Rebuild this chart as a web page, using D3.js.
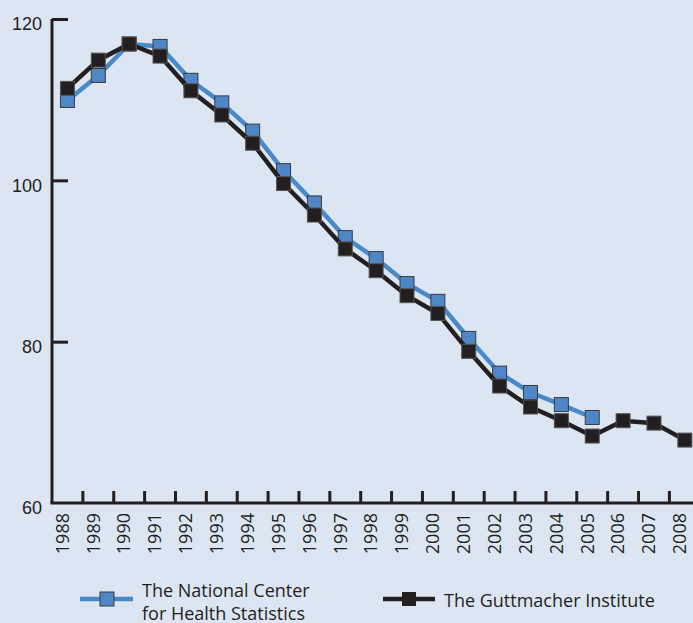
<!DOCTYPE html>
<meta charset="utf-8">
<head>
  <title>Rate chart</title>
</head>
<style>
body { margin: 0; background: #dce6f3; }
svg { display: block; font-family: "Open Sans", sans-serif; }
.axis path, .axis line { stroke: #231f20; stroke-width: 3; }
.axis text { fill: #231f20; font-size: 18px; }
</style>
<body>
<svg width=693 height=623></svg>
<script src="https://cdnjs.cloudflare.com/ajax/libs/d3/7.8.5/d3.min.js"></script>
<script>
var years = [1988, 1989, 1990, 1991, 1992, 1993, 1994, 1995, 1996, 1997, 1998,
             1999, 2000, 2001, 2002, 2003, 2004, 2005, 2006, 2007, 2008];
var nchs = [109.9, 113.0, 116.9, 116.6, 112.4, 109.6, 106.1, 101.2, 97.2, 92.9, 90.3,
            87.2, 85.0, 80.4, 76.1, 73.7, 72.2, 70.6, null, null, null];
var guttmacher = [111.4, 114.9, 116.9, 115.4, 111.1, 108.1, 104.6, 99.6, 95.7, 91.5, 88.8,
                  85.7, 83.5, 78.8, 74.5, 71.9, 70.2, 68.3, 70.2, 69.9, 67.8];
var yTicks = [60, 80, 100, 120];

var svg = d3.select('svg');
var mLeft = 52, mTop = 19, mBottom = 503;

var x = d3.scaleBand().domain(years).range([mLeft, mLeft + 21 * 30.87]);
var y = d3.scaleLinear().domain([60, 120]).range([mBottom, mTop]);

// y axis
var gy = svg.append('g').attr('class', 'axis').attr('transform', 'translate(' + mLeft + ',0)')
  .call(d3.axisRight(y).tickValues(yTicks).tickSize(16).tickSizeOuter(0).tickFormat(d3.format('d')));
gy.select('.domain').attr('d', 'M0,' + mTop + 'V' + mBottom);
gy.selectAll('.tick line').filter(function(d){ return d === 60; }).remove();
gy.selectAll('.tick text').attr('x', -10).attr('dy', '0.6em').attr('text-anchor', 'end');

// x axis: ticks at band boundaries, labels at band centres
var gx = svg.append('g').attr('class', 'axis').attr('transform', 'translate(0,' + mBottom + ')');
gx.append('line').attr('x1', mLeft - 1.5).attr('x2', 693).attr('y1', 0).attr('y2', 0);
gx.selectAll('line.t').data(years.slice(1)).enter().append('line').attr('class', 't')
  .attr('x1', function(d){ return x(d); }).attr('x2', function(d){ return x(d); })
  .attr('y1', 0).attr('y2', -12);
gx.selectAll('text').data(years).enter().append('text')
  .attr('transform', function(d){ return 'translate(' + (x(d) + x.bandwidth() / 2 - 5) + ',10) rotate(-90)'; })
  .attr('text-anchor', 'end').attr('dy', '0.35em')
  .text(function(d){ return d; });

function drawSeries(vals, lineColor, fill, stroke) {
  var pts = years.map(function(d, i){ return {year: d, v: vals[i]}; })
    .filter(function(p){ return p.v != null; });
  var line = d3.line().x(function(p){ return x(p.year) + x.bandwidth() / 2; })
    .y(function(p){ return y(p.v); });
  svg.append('path').datum(pts).attr('d', line)
    .attr('fill', 'none').attr('stroke', lineColor).attr('stroke-width', 4.5);
  svg.append('g').selectAll('rect').data(pts).enter().append('rect')
    .attr('x', function(p){ return x(p.year) + x.bandwidth() / 2 - 7; })
    .attr('y', function(p){ return y(p.v) - 7; })
    .attr('width', 14).attr('height', 14)
    .attr('fill', fill).attr('stroke', stroke).attr('stroke-width', 1);
}
drawSeries(nchs, '#4a89c8', '#4f86c6', '#3a3a3a');
drawSeries(guttmacher, '#231f20', '#231f20', '#555');

// legend
var lg = svg.append('g').attr('font-size', 18).attr('fill', '#231f20');
lg.append('line').attr('x1', 80).attr('x2', 133).attr('y1', 599).attr('y2', 599)
  .attr('stroke', '#4a89c8').attr('stroke-width', 4.5);
lg.append('rect').attr('x', 100).attr('y', 592).attr('width', 14).attr('height', 14)
  .attr('fill', '#4f86c6').attr('stroke', '#3a3a3a');
lg.append('text').attr('x', 142).attr('y', 597).text('The National Center');
lg.append('text').attr('x', 142).attr('y', 620).text('for Health Statistics');
lg.append('line').attr('x1', 383).attr('x2', 435).attr('y1', 599).attr('y2', 599)
  .attr('stroke', '#231f20').attr('stroke-width', 4.5);
lg.append('rect').attr('x', 402).attr('y', 592).attr('width', 14).attr('height', 14)
  .attr('fill', '#231f20');
lg.append('text').attr('x', 444).attr('y', 607).text('The Guttmacher Institute');
</script>
</body>
</html>
